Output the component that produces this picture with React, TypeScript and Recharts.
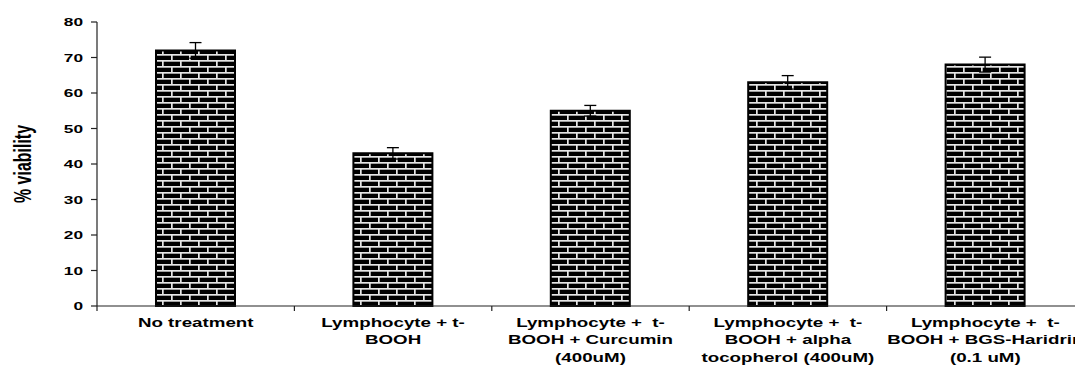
import { BarChart, Bar, XAxis, YAxis, ErrorBar } from 'recharts'

const categories = [
  'No treatment',
  'Lymphocyte + t-BOOH',
  'Lymphocyte + t-BOOH + Curcumin (400uM)',
  'Lymphocyte + t-BOOH + alpha tocopherol (400uM)',
  'Lymphocyte + t-BOOH + BGS-Haridrin (0.1 uM)'
]
const viability = [72, 43, 55, 63, 68]
const viabilityErr = [2.2, 1.6, 1.5, 1.9, 2.1]
const yTicks = [0, 10, 20, 30, 40, 50, 60, 70, 80]
const tickLabelLines = [
  ['No treatment'],
  ['Lymphocyte + t-', 'BOOH'],
  ['Lymphocyte +  t-', 'BOOH + Curcumin', '(400uM)'],
  ['Lymphocyte +  t-', 'BOOH + alpha', 'tocopherol (400uM)'],
  ['Lymphocyte +  t-', 'BOOH + BGS-Haridrin', '(0.1 uM)']
]

const data = categories.map((name, i) => ({
  name,
  value: viability[i],
  err: viabilityErr[i]
}))

const WIDTH = 1090
const HEIGHT = 365
const MARGIN = { top: 22, right: 6, left: 0, bottom: 0 }
const Y_AXIS_W = 97
const BAND = (WIDTH - MARGIN.left - MARGIN.right - Y_AXIS_W) / categories.length
const FONT = '"Liberation Sans", Arial, sans-serif'
const STRETCH = 'scale(1.5,1)'

function CategoryTick(props: any) {
  const { x, y, payload } = props
  const lines = tickLabelLines[payload.index] || [payload.value]
  const left = x - BAND / 2
  return (
    <g>
      <line x1={left} y1={y} x2={left} y2={y + 5} stroke='#222' strokeWidth={1.2} />
      <g transform={`translate(${x},${y})`}>
        <text transform={STRETCH} textAnchor='middle' fontSize={12.5} fontWeight='bold' fontFamily={FONT} fill='#000'>
          {lines.map((l: string, i: number) => (
            <tspan key={i} x={0} y={21 + i * 17.5} style={{ whiteSpace: 'pre' }}>
              {l}
            </tspan>
          ))}
        </text>
      </g>
    </g>
  )
}

function ValueTick(props: any) {
  const { x, y, payload } = props
  return (
    <g transform={`translate(${x},${y})`}>
      <text transform={STRETCH} textAnchor='end' dy={4} fontSize={11.5} fontWeight='bold' fontFamily={FONT} fill='#000'>
        {payload.value}
      </text>
    </g>
  )
}

function AxisTitle(props: any) {
  const vb = props.viewBox || { x: 0, y: 0, height: 0 }
  const cx = vb.x + 23
  const cy = vb.y + vb.height / 2
  return (
    <g transform={`translate(${cx},${cy}) ${STRETCH} rotate(-90)`}>
      <text textAnchor='middle' dy={5.5} fontSize={16} fontWeight='bold' fontFamily={FONT} fill='#000'>
        % viability
      </text>
    </g>
  )
}

export default function App() {
  return (
    <div style={{ position: 'absolute', left: 0, top: 0, width: 1075, height: 365, overflow: 'hidden', background: '#fff' }}>
      <BarChart width={WIDTH} height={HEIGHT} data={data} margin={MARGIN}>
        <defs>
          <pattern id='brick' patternUnits='userSpaceOnUse' width={18} height={12}>
            <rect x={0} y={0} width={18} height={12} fill='#000' />
            <rect x={0} y={0} width={18} height={1.7} fill='#e6e6e6' />
            <rect x={0} y={6} width={18} height={1.7} fill='#e6e6e6' />
            <rect x={0} y={0} width={1.7} height={6} fill='#e6e6e6' />
            <rect x={9} y={6} width={1.7} height={6} fill='#e6e6e6' />
          </pattern>
        </defs>
        <XAxis
          dataKey='name'
          interval={0}
          height={HEIGHT - 306}
          tickLine={false}
          tickSize={0}
          tickMargin={0}
          axisLine={{ stroke: '#222', strokeWidth: 1.2 }}
          tick={<CategoryTick />}
        />
        <YAxis
          width={Y_AXIS_W}
          domain={[0, 80]}
          ticks={yTicks}
          interval={0}
          tickSize={6}
          tickMargin={8}
          tickLine={{ stroke: '#222', strokeWidth: 1.2 }}
          axisLine={{ stroke: '#222', strokeWidth: 1.2 }}
          tick={<ValueTick />}
          label={<AxisTitle />}
        />
        <Bar dataKey='value' barSize={79} fill='url(#brick)' stroke='#000' strokeWidth={2} isAnimationActive={false}>
          <ErrorBar dataKey='err' width={6} stroke='#000' strokeWidth={1.3} direction='y' />
        </Bar>
      </BarChart>
    </div>
  )
}
